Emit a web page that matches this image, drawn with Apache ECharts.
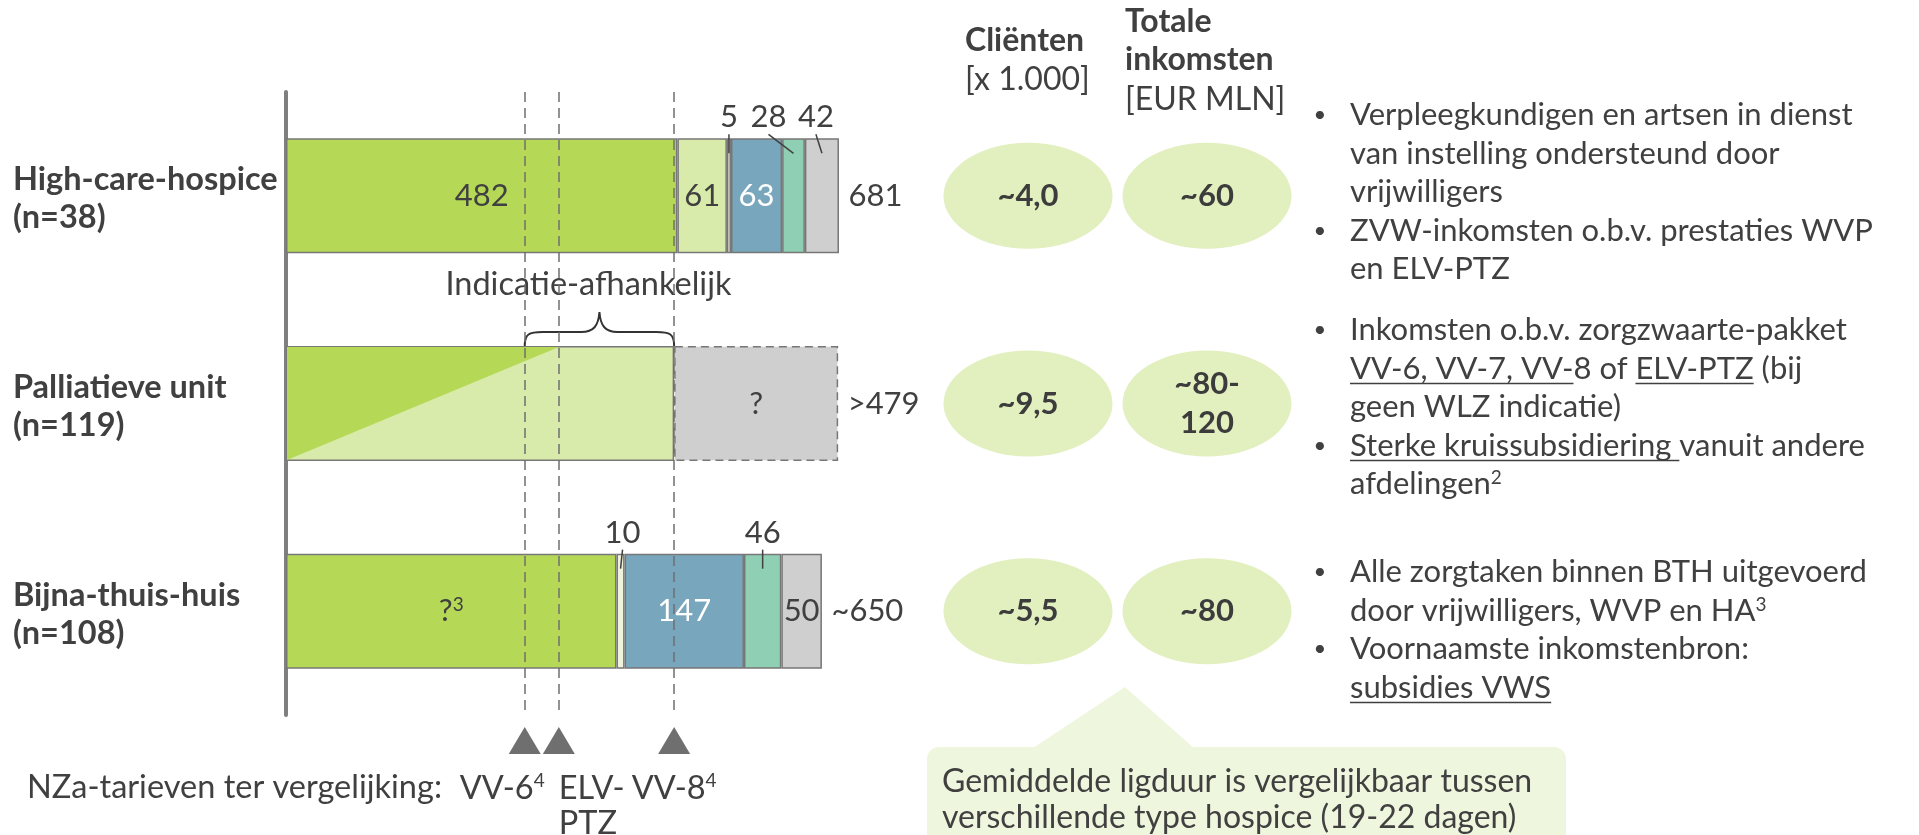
<!DOCTYPE html>
<html>
<head>
<meta charset="utf-8">
<title>Inkomsten per type hospice</title>
<script src="https://cdn.jsdelivr.net/npm/echarts@6.0.0/dist/echarts.min.js"></script>
<style>
  html, body { margin: 0; padding: 0; background: #fff; }
  #chart { width: 1919px; height: 835px; }
</style>
</head>
<body>
<div id="chart"></div>
<script>
// rijen (type hospice)
const rows = ['High-care-hospice', 'Palliatieve unit', 'Bijna-thuis-huis'];
const rowN = ['(n=38)', '(n=119)', '(n=108)'];

// opbouw van de balken, van links naar rechts
const segGreen = [482, 0, 407];
const segLight = [61, 478, 0];
const segPale = [5, 0, 10];
const segBlue = [63, 0, 147];
const segTeal = [28, 0, 46];
const segGray = [42, 202, 50];

// teksten in de balken
const txtGreen = ['482', '', '?³'];
const txtLight = ['61', '', ''];
const txtBlue = ['63', '', '147'];
const txtGray = ['', '?', '50'];
// teksten boven de balken
const topPale = ['5', '', '10'];
const topTeal = ['28', '', '46'];
const topGray = ['42', '', ''];
// totalen rechts van de balk
const totals = ['681', '>479', '~650'];

// palliatieve unit: schuine verdeling tot deze waarde
const pallSlopeTop = 336;
const braceLabel = 'Indicatie-afhankelijk';

// NZa-tarieven
const tariffs = [294, 336, 478];
const tariffNames = ['VV-6⁴', 'ELV-\nPTZ', 'VV-8⁴'];
const tariffCaption = 'NZa-tarieven ter vergelijking:';

// cirkels
const circleCols = ['Cliënten', 'Totale inkomsten'];
const clients = ['~4,0', '~9,5', '~5,5'];
const income = ['~60', '~80-\n120', '~80'];

// toelichting rechts ([..] = onderstreept)
const notesHigh = [
  '• Verpleegkundigen en artsen in dienst',
  'van instelling ondersteund door',
  'vrijwilligers',
  '• ZVW-inkomsten o.b.v. prestaties WVP',
  'en ELV-PTZ'
];
const notesPall = [
  '• Inkomsten o.b.v. zorgzwaarte-pakket',
  '[VV-6, VV-7, VV-]8 of [ELV-PTZ] (bij',
  'geen WLZ indicatie)',
  '• [Sterke kruissubsidiering ]vanuit andere',
  'afdelingen²'
];
const notesBth = [
  '• Alle zorgtaken binnen BTH uitgevoerd',
  'door vrijwilligers, WVP en HA³',
  '• Voornaamste inkomstenbron:',
  '[subsidies VWS]'
];
const calloutLines = [
  'Gemiddelde ligduur is vergelijkbaar tussen',
  'verschillende type hospice (19-22 dagen)'
];

const FONT = 'Lato, "Noto Sans", sans-serif';
const TXT = '#404040';
const BAR_W = 115;
const FS = 31;      // getallen en toelichting
const FS_L = 32.5;  // teksten links

const SUP = { '¹': '1', '²': '2', '³': '3', '⁴': '4' };
const toRich = s => s.replace(/[¹²³⁴]/g, c => `{sup|${SUP[c]}}`);
const supStyle = { fontSize: 19, verticalAlign: 'top', lineHeight: 30, fontFamily: FONT, color: TXT };

const measure = document.createElement('canvas').getContext('2d');
function textWidth(s, size, weight) {
  measure.font = `${weight || 'normal'} ${size}px Lato`;
  return measure.measureText(s).width;
}

const stackOrder = [segGreen, segLight, segPale, segBlue, segTeal, segGray];
function segRange(k, i) {
  let s = 0;
  for (let j = 0; j < k; j++) s += stackOrder[j][i];
  return [s, s + stackOrder[k][i]];
}
const rowTotals = rows.map((r, i) => segRange(5, i)[1]);

// labels boven de balk met aanwijslijntje
const calloutOffset = { '2-0': 0, '4-0': -25, '5-0': -6, '2-2': 2, '4-2': 0 };
const callouts = [];
[[2, topPale], [4, topTeal], [5, topGray]].forEach(([k, texts]) => {
  texts.forEach((t, i) => {
    if (!t) return;
    const [s, e] = segRange(k, i);
    callouts.push({ value: [s, i, e], text: t, dx: calloutOffset[k + '-' + i] || 0 });
  });
});

function barSeries(name, values, color, texts, labelColor, extra) {
  return Object.assign({
    type: 'bar',
    name: name,
    stack: 'total',
    barWidth: BAR_W,
    xAxisIndex: 0,
    yAxisIndex: 0,
    silent: true,
    itemStyle: { color: color, borderColor: '#777777', borderWidth: 1.5 },
    data: values.map((v, i) => ({
      value: v,
      itemStyle: v === 0 ? { borderWidth: 0 } : (name === 'gray' && i === 1 ? { borderType: [8, 5] } : undefined)
    })),
    label: {
      show: true,
      position: 'inside',
      color: labelColor,
      fontSize: FS,
      fontFamily: FONT,
      formatter: p => toRich((texts && texts[p.dataIndex]) || ''),
      rich: { sup: Object.assign({}, supStyle, { color: labelColor }) }
    }
  }, extra || {});
}

// ---- grafische teksten ----
const graphics = [];
function addText(x, y, text, opts) {
  graphics.push({
    type: 'text',
    x: x,
    y: y,
    silent: true,
    style: Object.assign({
      text: toRich(text),
      fill: TXT,
      font: `normal ${FS}px ${FONT}`,
      textAlign: 'left',
      textVerticalAlign: 'middle',
      rich: { sup: supStyle }
    }, opts || {})
  });
}

// kopjes boven de cirkels
addText(965, 41, 'Cliënten', { font: `bold 32px ${FONT}` });
addText(965, 80, '[x 1.000]', { font: `normal 32px ${FONT}` });
addText(1125, 22, 'Totale', { font: `bold 32px ${FONT}` });
addText(1125, 60, 'inkomsten', { font: `bold 32px ${FONT}` });
addText(1125, 100, '[EUR MLN]', { font: `normal 32px ${FONT}` });

// toelichting
const noteGroups = [notesHigh, notesPall, notesBth];
const noteTop = [115, 330, 572];
noteGroups.forEach((lines, g) => {
  lines.forEach((line, k) => {
    const y = noteTop[g] + k * 38.5;
    let txt = line;
    if (txt.startsWith('• ')) {
      addText(1320, y, '•', { font: `normal 22px ${FONT}`, textAlign: 'center' });
      txt = txt.slice(2);
    }
    const parts = txt.split(/[\[\]]/);
    let x = 1350;
    parts.forEach((p, idx) => {
      const w = textWidth(p.replace(/[¹²³⁴]/g, ''), FS);
      if (idx % 2 === 1) {
        graphics.push({
          type: 'line', silent: true,
          shape: { x1: x, y1: y + 15, x2: x + w, y2: y + 15 },
          style: { stroke: TXT, lineWidth: 1.6 }
        });
      }
      x += w;
    });
    addText(1350, y, txt.replace(/[\[\]]/g, ''));
  });
});

// kader onderaan
graphics.push({
  type: 'polygon', silent: true, z: 0,
  shape: { points: [[1033, 748], [1125, 687], [1194, 748]] },
  style: { fill: '#eff6de' }
});
graphics.push({
  type: 'rect', silent: true, z: 0,
  shape: { x: 927, y: 747, width: 639, height: 120, r: 12 },
  style: { fill: '#eff6de' }
});
calloutLines.forEach((l, i) => addText(942, 782 + i * 36, l, { font: `normal 32px ${FONT}` }));

// NZa-bijschrift
addText(27, 788, tariffCaption, { font: `normal ${FS_L}px ${FONT}` });

const option = {
  animation: false,
  textStyle: { fontFamily: FONT, color: TXT },
  grid: [
    { left: 286, top: 92, width: 812, height: 623 },
    { left: 286, top: 727, width: 812, height: 27 },
    { left: 938.5, top: 92, width: 358, height: 623 }
  ],
  xAxis: [
    { gridIndex: 0, type: 'value', min: 0, max: 1000, show: false },
    { gridIndex: 1, type: 'value', min: 0, max: 1000, show: false },
    { gridIndex: 2, type: 'category', data: circleCols, show: false }
  ],
  yAxis: [
    {
      gridIndex: 0,
      type: 'category',
      data: rows,
      inverse: true,
      axisLine: { show: true, lineStyle: { color: '#7f7f7f', width: 4 } },
      axisTick: { show: false },
      splitLine: { show: false },
      axisLabel: {
        align: 'left',
        margin: 273,
        padding: [6, 0, 0, 0],
        formatter: (v, i) => `{b|${v}}\n{b|${rowN[i]}}`,
        rich: { b: { fontFamily: FONT, fontWeight: 'bold', fontSize: FS_L, lineHeight: 38, color: TXT } }
      }
    },
    { gridIndex: 1, type: 'value', min: 0, max: 1, show: false },
    { gridIndex: 2, type: 'category', data: rows, inverse: true, show: false }
  ],
  series: [
    barSeries('green', segGreen, '#b5d957', txtGreen, TXT),
    barSeries('light', segLight, '#d9ebaa', txtLight, TXT),
    barSeries('pale', segPale, '#f0f3dc', null, TXT),
    barSeries('blue', segBlue, '#78a6bd', txtBlue, '#ffffff'),
    barSeries('teal', segTeal, '#8fcfb3', null, TXT),
    barSeries('gray', segGray, '#cfcfcf', txtGray, TXT, {
      markLine: {
        silent: true,
        symbol: 'none',
        z: 6,
        label: { show: false },
        lineStyle: { color: '#6f6f6f', type: [10, 6], width: 1.5 },
        data: tariffs.map(v => ({ xAxis: v }))
      }
    }),
    {
      // schuine verdeling palliatieve unit
      type: 'custom',
      xAxisIndex: 0,
      yAxisIndex: 0,
      z: 3,
      silent: true,
      data: [[0, 1, pallSlopeTop]],
      encode: { x: [0, 2], y: 1 },
      renderItem: (params, api) => {
        const a = api.coord([api.value(0), api.value(1)]);
        const b = api.coord([api.value(2), api.value(1)]);
        const top = a[1] - BAR_W / 2 + 1;
        const bottom = a[1] + BAR_W / 2 - 1;
        return {
          type: 'polygon',
          shape: { points: [[a[0] + 1, top], [b[0], top], [a[0] + 1, bottom]] },
          style: { fill: '#b5d957' }
        };
      }
    },
    {
      // accolade "Indicatie-afhankelijk"
      type: 'custom',
      xAxisIndex: 0,
      yAxisIndex: 0,
      z: 4,
      silent: true,
      data: [[tariffs[0], 1, tariffs[2]]],
      encode: { x: [0, 2], y: 1 },
      renderItem: (params, api) => {
        const a = api.coord([api.value(0), api.value(1)]);
        const b = api.coord([api.value(2), api.value(1)]);
        const x1 = a[0], x2 = b[0], mid = (x1 + x2) / 2;
        const top = a[1] - BAR_W / 2;
        const h = top - 14;
        const path = `M${x1},${top} C${x1},${h + 2} ${x1 + 4},${h} ${x1 + 18},${h} ` +
          `L${mid - 18},${h} C${mid - 6},${h} ${mid - 1},${h - 6} ${mid},${h - 20} ` +
          `C${mid + 1},${h - 6} ${mid + 6},${h} ${mid + 18},${h} ` +
          `L${x2 - 18},${h} C${x2 - 4},${h} ${x2},${h + 2} ${x2},${top}`;
        return {
          type: 'group',
          children: [
            { type: 'path', shape: { pathData: path }, style: { stroke: '#333', lineWidth: 2, fill: null } },
            {
              type: 'text',
              style: {
                text: braceLabel, x: mid - 11, y: top - 61,
                textAlign: 'center', textVerticalAlign: 'middle',
                fill: TXT, font: `normal ${FS_L}px ${FONT}`
              }
            }
          ]
        };
      }
    },
    {
      // kleine waarden boven de balk
      type: 'custom',
      xAxisIndex: 0,
      yAxisIndex: 0,
      z: 4,
      silent: true,
      data: callouts.map(c => c.value),
      encode: { x: [0, 2], y: 1 },
      renderItem: (params, api) => {
        const c = callouts[params.dataIndex];
        const a = api.coord([api.value(0), api.value(1)]);
        const b = api.coord([api.value(2), api.value(1)]);
        const cx = (a[0] + b[0]) / 2;
        const top = a[1] - BAR_W / 2;
        const lx = cx + c.dx;
        return {
          type: 'group',
          children: [
            { type: 'line', shape: { x1: lx, y1: top - 4, x2: cx, y2: top + 15 }, style: { stroke: '#404040', lineWidth: 1.5 } },
            {
              type: 'text',
              style: {
                text: c.text, x: lx, y: top - 21,
                textAlign: 'center', textVerticalAlign: 'middle',
                fill: TXT, font: `normal ${FS}px ${FONT}`
              }
            }
          ]
        };
      }
    },
    {
      // totalen
      type: 'scatter',
      xAxisIndex: 0,
      yAxisIndex: 0,
      silent: true,
      symbolSize: 1,
      itemStyle: { color: 'rgba(0,0,0,0)', opacity: 1 },
      data: rowTotals.map((v, i) => [v, i]),
      label: {
        show: true,
        position: 'right',
        distance: 9,
        formatter: p => totals[p.dataIndex],
        fontSize: FS,
        fontFamily: FONT,
        color: TXT,
        opacity: 1
      }
    },
    {
      // NZa-tarieven (driehoekjes)
      type: 'scatter',
      xAxisIndex: 1,
      yAxisIndex: 1,
      silent: true,
      symbol: 'triangle',
      symbolSize: [32, 27],
      itemStyle: { color: '#6f6f6f', opacity: 1 },
      data: tariffs.map((v, i) => ({
        value: [v, 0.5],
        label: [
          { align: 'right', offset: [20, 17] },
          { align: 'left', offset: [0, 17] },
          { align: 'center', offset: [0, 17] }
        ][i]
      })),
      label: {
        show: true,
        position: 'bottom',
        distance: 0,
        formatter: p => toRich(tariffNames[p.dataIndex]),
        fontSize: FS_L,
        fontFamily: FONT,
        color: TXT,
        opacity: 1,
        lineHeight: 35,
        rich: { sup: supStyle }
      }
    },
    {
      type: 'scatter',
      name: circleCols[0],
      xAxisIndex: 2,
      yAxisIndex: 2,
      silent: true,
      symbol: 'circle',
      symbolSize: [169, 106],
      itemStyle: { color: '#e2efbf', opacity: 1 },
      data: clients.map((t, i) => [0, i]),
      label: {
        show: true, position: 'inside', formatter: p => clients[p.dataIndex], opacity: 1,
        fontFamily: FONT, fontWeight: 'bold', fontSize: FS, color: '#3c3c3c', lineHeight: 39
      }
    },
    {
      type: 'scatter',
      name: circleCols[1],
      xAxisIndex: 2,
      yAxisIndex: 2,
      silent: true,
      symbol: 'circle',
      symbolSize: [169, 106],
      itemStyle: { color: '#e2efbf', opacity: 1 },
      data: income.map((t, i) => [1, i]),
      label: {
        show: true, position: 'inside', formatter: p => income[p.dataIndex], opacity: 1,
        fontFamily: FONT, fontWeight: 'bold', fontSize: FS, color: '#3c3c3c', lineHeight: 39
      }
    }
  ],
  graphic: graphics
};

const chart = echarts.init(document.getElementById('chart'));
chart.setOption(option);
</script>
</body>
</html>
